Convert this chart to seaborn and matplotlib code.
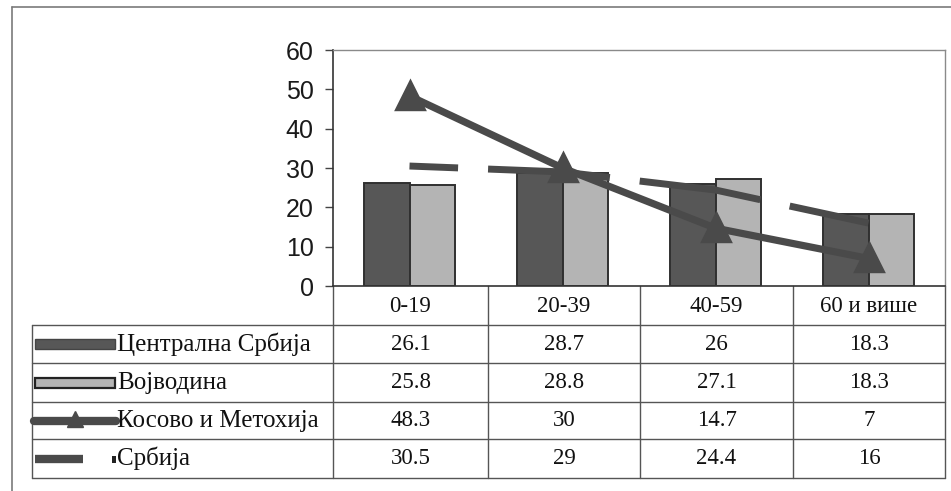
import numpy as np
import pandas as pd
import matplotlib
matplotlib.use('Agg')
import matplotlib.pyplot as plt
import seaborn as sns
from matplotlib.patches import Rectangle
from matplotlib.lines import Line2D

# ---- data ----
categories = ['0-19', '20-39', '40-59', '60 и више']
series_names = ['Централна Србија', 'Војводина', 'Косово и Метохија', 'Србија']
central_serbia = [26.1, 28.7, 26, 18.3]
vojvodina = [25.8, 28.8, 27.1, 18.3]
kosovo = [48.3, 30, 14.7, 7]
serbia = [30.5, 29, 24.4, 16]
y_ticks = [0, 10, 20, 30, 40, 50, 60]

# ---- style ----
sns.set_theme(style='white')
plt.rcParams['font.family'] = ['Liberation Sans', 'DejaVu Sans']
plt.rcParams['lines.scale_dashes'] = False

DARK = '#575757'
LIGHT = '#b4b4b4'
LINE = '#4a4a4a'
TXT = '#111111'

W, H = 951, 491
fig = plt.figure(figsize=(W / 100, H / 100), dpi=100)
fig.patch.set_facecolor('white')


def frac(x0, y0, x1, y1):
    return [x0 / W, 1 - y1 / H, (x1 - x0) / W, (y1 - y0) / H]


# pixel-space overlay for frame & data table
tab = fig.add_axes([0, 0, 1, 1], zorder=0)
tab.set_xlim(0, W)
tab.set_ylim(H, 0)
tab.axis('off')

# ---- chart ----
ax = fig.add_axes(frac(333, 50, 945, 286), zorder=2)
ax.patch.set_alpha(0)

df = pd.DataFrame({
    'cat': categories * 2,
    'val': central_serbia + vojvodina,
    'series': [series_names[0]] * len(categories) + [series_names[1]] * len(categories),
})
sns.barplot(data=df, x='cat', y='val', hue='series', order=categories,
            hue_order=series_names[:2], palette=[DARK, LIGHT], saturation=1,
            width=0.59, gap=0, edgecolor='#303030', linewidth=1.4,
            legend=False, ax=ax, errorbar=None)

sns.pointplot(x=categories, y=serbia, order=categories, color=LINE, markers='',
              linestyles='-', linewidth=5, errorbar=None, ax=ax)
ax.lines[-1].set_linestyle((53, (88, 21.6)))
ax.lines[-1].set_solid_capstyle('butt')
ax.lines[-1].set_dash_capstyle('butt')

sns.pointplot(x=categories, y=kosovo, order=categories, color=LINE, markers='^',
              linestyles='-', linewidth=5.2, markersize=17, errorbar=None, ax=ax)

ax.set_xlim(-0.5, len(categories) - 0.5)
ax.set_ylim(y_ticks[0], y_ticks[-1])
ax.set_yticks(y_ticks)
ax.set_yticklabels([str(t) for t in y_ticks], fontsize=18, color='#1a1a1a',
                   family=['Liberation Sans', 'DejaVu Sans'])
ax.set_xticks([])
ax.set_xlabel('')
ax.set_ylabel('')
ax.tick_params(axis='y', left=True, length=6, width=1, color='#444444', pad=8)
for side in ['left', 'bottom']:
    ax.spines[side].set_color('#333333')
    ax.spines[side].set_linewidth(1.2)
for side in ['top', 'right']:
    ax.spines[side].set_color('#8a8a8a')
    ax.spines[side].set_linewidth(1.0)

# ---- data table under the chart ----
col_edges = [333, 488, 640, 793, 945]
row_edges = [286, 325, 363, 402, 439, 478]
leg_left = 32
lc = '#555555'
for x in col_edges:
    tab.add_line(Line2D([x, x], [row_edges[0], row_edges[-1]], color=lc, lw=1))
tab.add_line(Line2D([leg_left, leg_left], [row_edges[1], row_edges[-1]], color=lc, lw=1))
for y in row_edges[1:]:
    tab.add_line(Line2D([leg_left, col_edges[-1]], [y, y], color=lc, lw=1))

serif = ['Liberation Serif', 'DejaVu Serif']
fs_val = 16.5
fs_name = 18
col_centers = [(a + b) / 2 for a, b in zip(col_edges[:-1], col_edges[1:])]
row_centers = [(a + b) / 2 for a, b in zip(row_edges[:-1], row_edges[1:])]
for cx, lab in zip(col_centers, categories):
    tab.text(cx, row_centers[0] + 1, lab, ha='center', va='center', fontsize=fs_val,
             family=serif, color=TXT)

table_rows = [central_serbia, vojvodina, kosovo, serbia]
for r, (name, vals) in enumerate(zip(series_names, table_rows)):
    cy = row_centers[r + 1]
    tab.text(117, cy, name, ha='left', va='center', fontsize=fs_name, family=serif, color=TXT)
    for cx, v in zip(col_centers, vals):
        tab.text(cx, cy, f'{v:g}', ha='center', va='center', fontsize=fs_val,
                 family=serif, color=TXT)

# legend keys inside the table
tab.add_patch(Rectangle((35, row_centers[1] - 5), 80, 10, facecolor=DARK,
                        edgecolor='#444444', lw=1))
tab.add_patch(Rectangle((35, row_centers[2] - 5), 80, 10, facecolor=LIGHT,
                        edgecolor='#222222', lw=1.6))
tab.add_line(Line2D([34, 116], [row_centers[3], row_centers[3]], color=LINE, lw=6))
tab.add_line(Line2D([75], [row_centers[3] - 2], color=LINE, marker='^', markersize=12, lw=0))
tab.add_line(Line2D([35, 83], [row_centers[4], row_centers[4]], color=LINE, lw=6,
                    solid_capstyle='butt'))
tab.add_patch(Rectangle((112, row_centers[4] - 3), 4, 7, facecolor='#222222', lw=0))

# outer frame
tab.add_line(Line2D([12, 12], [7, H], color='#7a7a7a', lw=1.2))
tab.add_line(Line2D([12, W], [7, 7], color='#7a7a7a', lw=1.2))

fig.savefig('out.png', dpi=100)
